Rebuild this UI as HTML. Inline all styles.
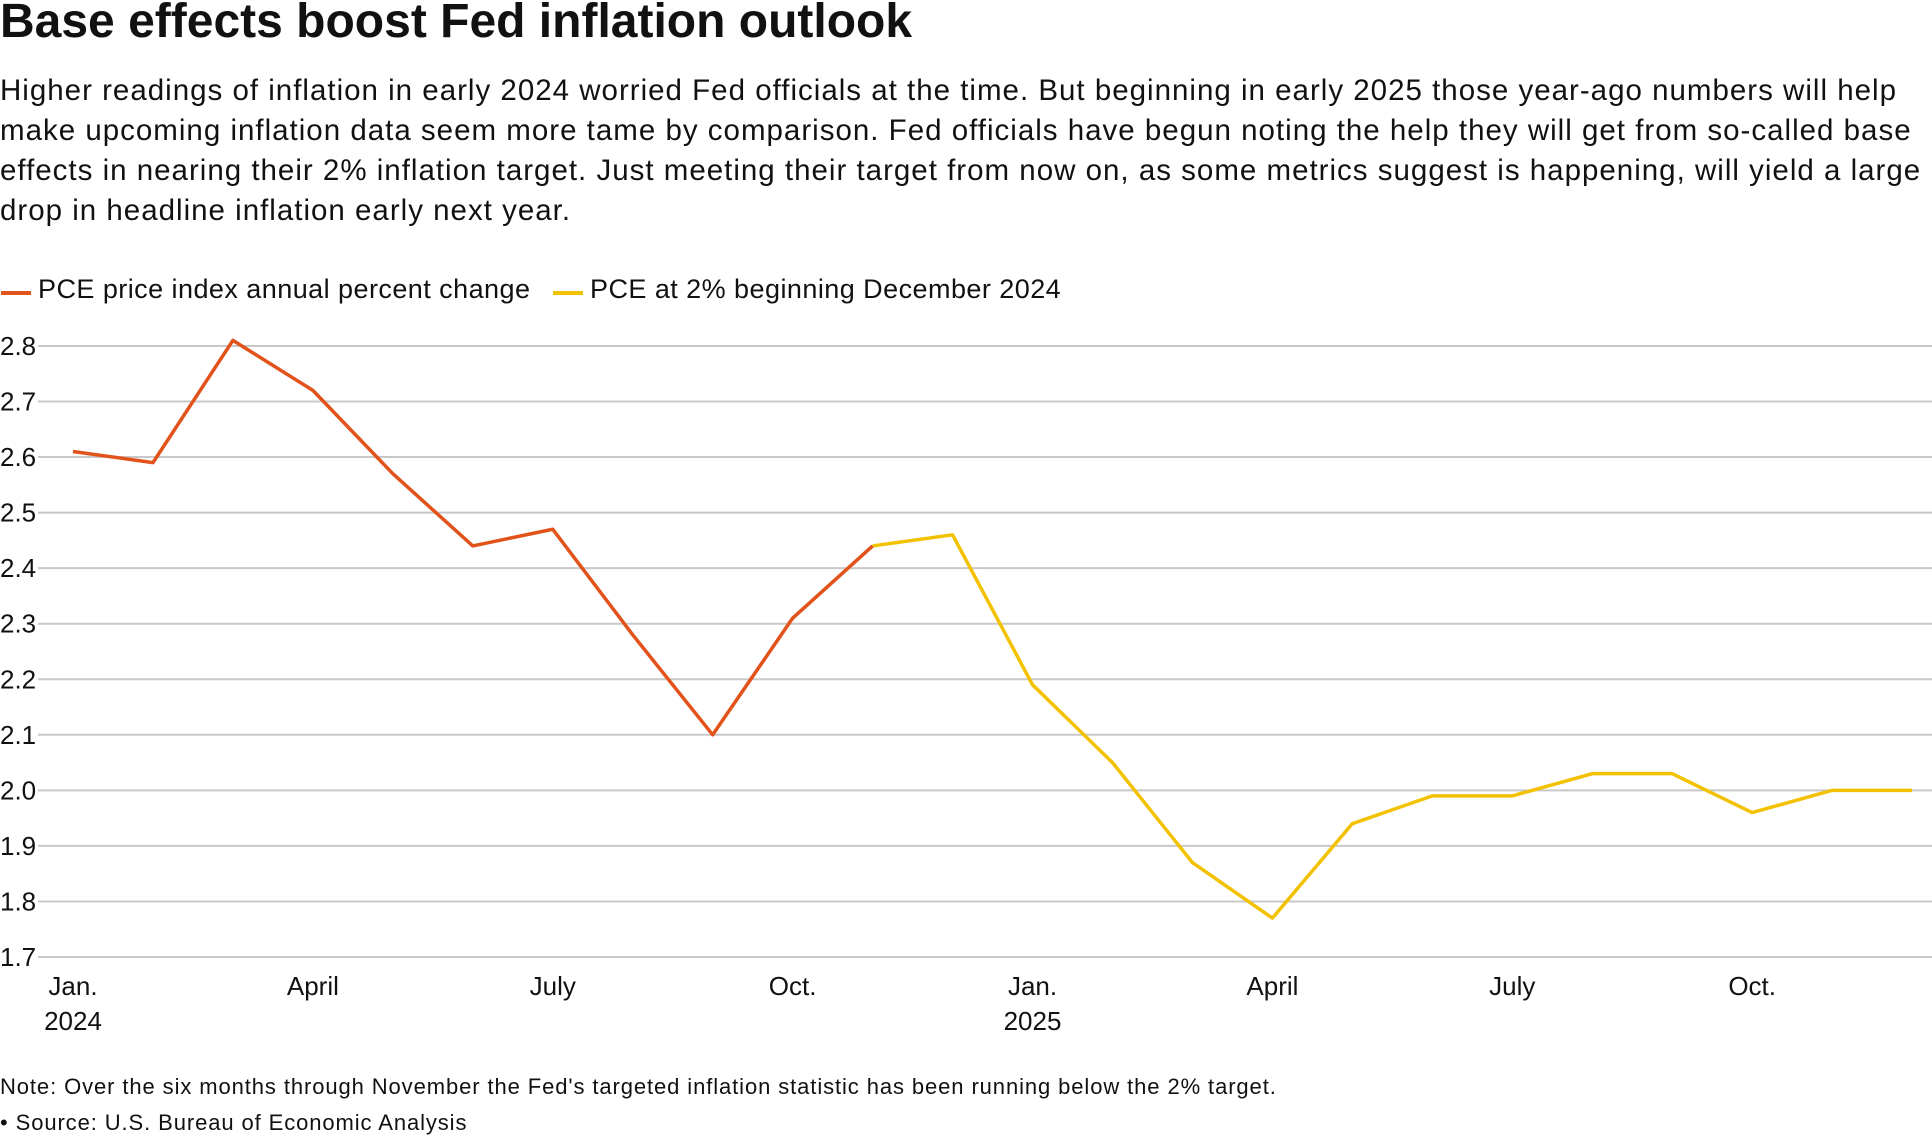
<!DOCTYPE html>
<html><head><meta charset="utf-8"><style>
body{margin:0;width:1932px;height:1140px;background:#fff;font-family:"Liberation Sans",Arial,sans-serif;color:#111;position:relative;overflow:hidden}
.t{position:absolute;left:0;white-space:nowrap}
</style></head><body>
<div class="t" style="top:-6px;font-size:48px;font-weight:bold;letter-spacing:0px">Base effects boost Fed inflation outlook</div>
<div class="t" style="top:71px;font-size:29.5px;line-height:40px;letter-spacing:1px">Higher readings of inflation in early 2024 worried Fed officials at the time. But beginning in early 2025 those year-ago numbers will help<br>make upcoming inflation data seem more tame by comparison. Fed officials have begun noting the help they will get from so-called base<br>effects in nearing their 2% inflation target. Just meeting their target from now on, as some metrics suggest is happening, will yield a large<br>drop in headline inflation early next year.</div>
<svg width="1932" height="1140" style="position:absolute;left:0;top:0" font-family="Liberation Sans, Arial, sans-serif">
<g>
<line x1="1" y1="293" x2="31" y2="293" stroke="#e2531b" stroke-width="4"/>
<text x="38" y="298" font-size="27" fill="#111" letter-spacing="0.45">PCE price index annual percent change</text>
<line x1="553" y1="293" x2="583" y2="293" stroke="#f2c100" stroke-width="4"/>
<text x="590" y="298" font-size="27" fill="#111" letter-spacing="0.45">PCE at 2% beginning December 2024</text>
</g>
<g id="grid"></g><g id="xt"></g><g id="lines"></g>
<text x="0" y="1094" font-size="22" fill="#111" letter-spacing="0.9">Note: Over the six months through November the Fed's targeted inflation statistic has been running below the 2% target.</text>
<text x="0" y="1130" font-size="22" fill="#111" letter-spacing="0.9">• Source: U.S. Bureau of Economic Analysis</text>
</svg>
<script>
const yTicks=[1.7,1.8,1.9,2.0,2.1,2.2,2.3,2.4,2.5,2.6,2.7,2.8];
const yTickLabels=["1.7","1.8","1.9","2.0","2.1","2.2","2.3","2.4","2.5","2.6","2.7","2.8"];
const pceActual=[2.61,2.59,2.81,2.72,2.57,2.44,2.47,2.28,2.10,2.31,2.44];
const pceProjected=[2.44,2.46,2.19,2.05,1.87,1.77,1.94,1.99,1.99,2.03,2.03,1.96,2.00,2.00];
const projectedStart=10;
const xTickIdx=[0,3,6,9,12,15,18,21];
const xTickLabels=["Jan.","April","July","Oct.","Jan.","April","July","Oct."];
const xTickYears=["2024","","","","2025","","",""];
const NS="http://www.w3.org/2000/svg";
const X=i=>73+i*79.96;
const Y=v=>957-(v-1.7)*555.5;
function mk(tag,attrs,parent){const e=document.createElementNS(NS,tag);for(const k in attrs)e.setAttribute(k,attrs[k]);parent.appendChild(e);return e;}
const grid=document.getElementById('grid');
yTicks.forEach((v,i)=>{
 const l=mk('line',{x1:38,x2:1932,y1:Y(v),y2:Y(v),stroke:'#c8c8c8','stroke-width':2},grid);
 
 
 const t=mk('text',{x:0,y:Y(v)+9,'font-size':26,fill:'#111'},grid);t.textContent=yTickLabels[i];
 
 
});
const xt=document.getElementById('xt');
xTickIdx.forEach((idx,i)=>{
 const t=mk('text',{x:X(idx),y:995,'font-size':26,fill:'#111','text-anchor':'middle'},xt);t.textContent=xTickLabels[i];
 
 
 if(xTickYears[i]){const y=mk('text',{x:X(idx),y:1030,'font-size':26,fill:'#111','text-anchor':'middle'},xt);y.textContent=xTickYears[i];
 
 }
});
const lines=document.getElementById('lines');
const p2=mk('polyline',{points:pceProjected.map((v,i)=>X(i+projectedStart)+','+Y(v)).join(' '),fill:'none',stroke:'#f2c100','stroke-width':3.5,'stroke-linejoin':'round'},lines);


const p1=mk('polyline',{points:pceActual.map((v,i)=>X(i)+','+Y(v)).join(' '),fill:'none',stroke:'#e2531b','stroke-width':3.5,'stroke-linejoin':'round'},lines);


</script>
</body></html>
